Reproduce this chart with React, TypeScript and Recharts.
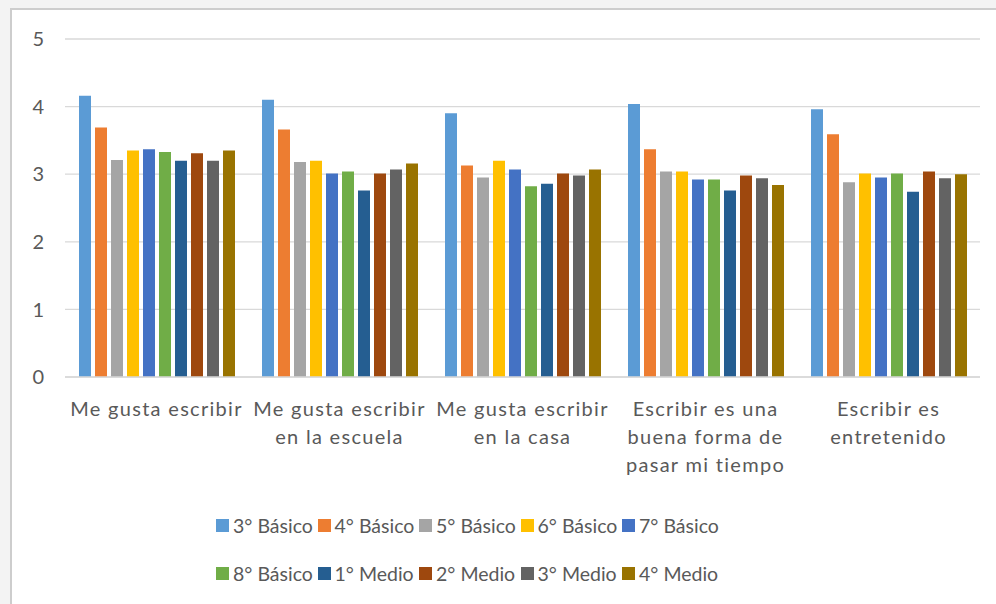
import { BarChart, Bar, XAxis, YAxis, CartesianGrid, Legend } from "recharts";

// categorías (líneas del rótulo tal como aparecen en el gráfico)
const categoryLines: string[][] = [
  ["Me gusta escribir"],
  ["Me gusta escribir", "en la escuela"],
  ["Me gusta escribir", "en la casa"],
  ["Escribir es una", "buena forma de", "pasar mi tiempo"],
  ["Escribir es", "entretenido"],
];

const seriesNames = [
  "3° Básico", "4° Básico", "5° Básico", "6° Básico", "7° Básico",
  "8° Básico", "1° Medio", "2° Medio", "3° Medio", "4° Medio",
];

const seriesColors = [
  "#5B9BD5", "#ED7D31", "#A5A5A5", "#FFC000", "#4472C4",
  "#70AD47", "#255E91", "#9E480E", "#636363", "#997300",
];

// un array por curso, un valor por categoría
const basico3 = [4.16, 4.10, 3.90, 4.04, 3.96];
const basico4 = [3.69, 3.66, 3.13, 3.37, 3.59];
const basico5 = [3.21, 3.18, 2.95, 3.04, 2.88];
const basico6 = [3.35, 3.20, 3.20, 3.04, 3.01];
const basico7 = [3.37, 3.01, 3.07, 2.92, 2.95];
const basico8 = [3.33, 3.04, 2.82, 2.92, 3.01];
const medio1 = [3.20, 2.76, 2.86, 2.76, 2.74];
const medio2 = [3.31, 3.01, 3.01, 2.98, 3.04];
const medio3 = [3.20, 3.07, 2.98, 2.94, 2.94];
const medio4 = [3.35, 3.16, 3.07, 2.84, 3.00];

const yTicks = [0, 1, 2, 3, 4, 5];

const allSeries = [basico3, basico4, basico5, basico6, basico7, basico8, medio1, medio2, medio3, medio4];

const data = categoryLines.map((lines, i) => {
  const row: Record<string, any> = { name: lines.join(" ") };
  seriesNames.forEach((s, j) => { row[s] = allSeries[j][i]; });
  return row;
});

const FONT = "Lato, 'Liberation Sans', sans-serif";
const TXT = "#595959";

function CatTick(props: any) {
  const { x, y, payload } = props;
  const lines = categoryLines[payload.index] || [payload.value];
  return (
    <text x={x} y={y} textAnchor="middle" fill={TXT} fontSize={20} fontFamily={FONT} letterSpacing={1.3}>
      {lines.map((l, i) => (
        <tspan key={i} x={x} dy={i === 0 ? 31 : 28}>{l}</tspan>
      ))}
    </text>
  );
}

function LegendBox() {
  const rows = [seriesNames.slice(0, 5), seriesNames.slice(5)];
  return (
    <div style={{ height: 100, paddingTop: 9, boxSizing: "border-box", fontFamily: FONT }}>
      {rows.map((r, ri) => (
        <div key={ri} style={{ display: "flex", marginLeft: 216, height: 24, marginBottom: ri === 0 ? 24 : 0 }}>
          {r.map((s) => {
            const idx = seriesNames.indexOf(s);
            return (
              <div key={s} style={{ width: 101.5, display: "flex", alignItems: "center" }}>
                <span style={{ width: 13, height: 13, background: seriesColors[idx], display: "inline-block", marginRight: 4 }} />
                <span style={{ fontSize: 19.5, color: TXT, whiteSpace: "nowrap" }}>{s}</span>
              </div>
            );
          })}
        </div>
      ))}
    </div>
  );
}

export default function App() {
  return (
    <div style={{ position: "absolute", left: 0, top: 0, width: 996, height: 604, background: "#f3f3f3", overflow: "hidden" }}>
      <div style={{
        position: "absolute", left: 10, top: 8, width: 990, height: 600,
        background: "#fff", borderLeft: "2px solid #cdcdcd", borderTop: "2px solid #cdcdcd",
      }} />
      <div style={{ position: "absolute", left: 0, top: 0 }}>
        <BarChart
          width={996}
          height={604}
          data={data}
          margin={{ top: 39, right: 16, bottom: 0, left: 25 }}
          barSize={12}
          barGap={4}
        >
          <CartesianGrid vertical={false} stroke="#d9d9d9" strokeWidth={1.3} />
          <XAxis
            dataKey="name"
            height={127}
            interval={0}
            tickLine={false}
            axisLine={{ stroke: "#d9d9d9", strokeWidth: 1.3 }}
            tick={<CatTick />}
          />
          <YAxis
            width={40}
            domain={[0, 5]}
            ticks={yTicks}
            axisLine={false}
            tickLine={false}
            tickMargin={15}
            tick={{ fill: TXT, fontSize: 20, fontFamily: FONT }}
          />
          <Legend verticalAlign="bottom" wrapperStyle={{ left: 0, width: 996 }} content={<LegendBox />} />
          {seriesNames.map((s, i) => (
            <Bar key={s} dataKey={s} fill={seriesColors[i]} isAnimationActive={false} />
          ))}
        </BarChart>
      </div>
    </div>
  );
}
